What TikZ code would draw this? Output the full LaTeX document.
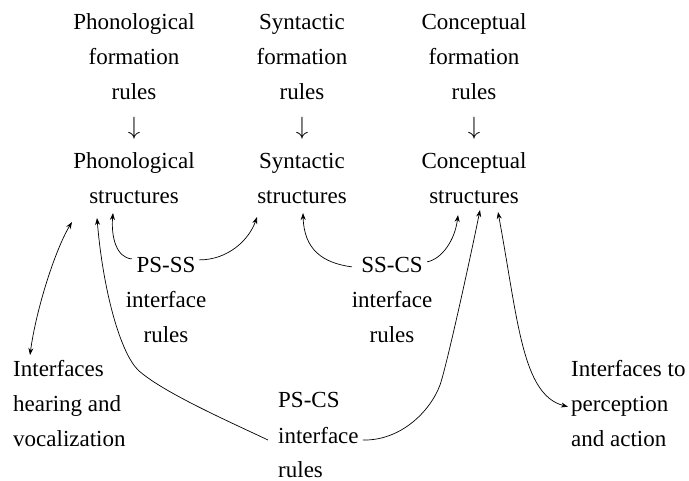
\documentclass[tikz,border=0pt]{standalone}
\usepackage{fontspec}
\setmainfont{Liberation Serif}
\usetikzlibrary{arrows.meta,calc}
\begin{document}
\begin{tikzpicture}[x=1pt,y=-1pt,
  lbl/.style={inner sep=0pt, anchor=base, font=\fontsize{23}{28}\selectfont},
  lbll/.style={lbl, anchor=base west},
  conn/.style={line width=0.7pt, -{Stealth[length=7pt,width=5pt]}},
  bconn/.style={line width=0.7pt, {Stealth[length=7pt,width=5pt]}-{Stealth[length=7pt,width=5pt]}}]
\useasboundingbox (0,0) rectangle (689,481);
% column 1
\node[lbl] (pf1) at (134,30) {Phonological};
\node[lbl] (pf2) at (134,64.7) {formation};
\node[lbl] (pf3) at (134,99.4) {rules};
\node[lbl] (pfa) at (134,134.1) {$\downarrow$};
\node[lbl] (ph1) at (134,168.8) {Phonological};
\node[lbl] (phs) at (134,203.5) {structures};
% column 2
\node[lbl] (sf1) at (302,30) {Syntactic};
\node[lbl] (sf2) at (302,64.7) {formation};
\node[lbl] (sf3) at (302,99.4) {rules};
\node[lbl] (sfa) at (302,134.1) {$\downarrow$};
\node[lbl] (sy1) at (302,168.8) {Syntactic};
\node[lbl] (sys) at (302,203.5) {structures};
% column 3
\node[lbl] (cf1) at (474,30) {Conceptual};
\node[lbl] (cf2) at (474,64.7) {formation};
\node[lbl] (cf3) at (474,99.4) {rules};
\node[lbl] (cfa) at (474,134.1) {$\downarrow$};
\node[lbl] (cs1) at (474,168.8) {Conceptual};
\node[lbl] (css) at (474,203.5) {structures};
% PS-SS
\node[lbl] (psss) at (166,272.9) {PS-SS};
\node[lbl] (psss2) at (166,307.6) {interface};
\node[lbl] (psss3) at (166,342.3) {rules};
% SS-CS
\node[lbl] (sscs) at (392,272.9) {SS-CS};
\node[lbl] (sscs2) at (392,307.6) {interface};
\node[lbl] (sscs3) at (392,342.3) {rules};
% left interfaces
\node[lbll] (hv1) at (13,377) {Interfaces};
\node[lbll] (hv2) at (13,411.7) {hearing and};
\node[lbll] (hv3) at (13,446.4) {vocalization};
% PS-CS
\node[lbll] (pscs) at (278,408) {PS-CS};
\node[lbll] (pscs2) at (278,443) {interface};
\node[lbll] (pscs3) at (278,477) {rules};
% right interfaces
\node[lbll] (pa1) at (571,377) {Interfaces to};
\node[lbll] (pa2) at (571,411.7) {perception};
\node[lbll] (pa3) at (571,446.4) {and action};
% connectors
\draw[conn] ($(psss.base)+(-34,-14)$) .. controls (116,258) and (111,236) .. ($(phs.base)+(-21,9.5)$);
\draw[conn] ($(psss.base)+(33,-13)$) .. controls (228,260) and (249,240) .. ($(sys.base)+(-45,13.5)$);
\draw[conn] ($(sscs.base)+(-40,-6)$) .. controls (323,263) and (304,250) .. ($(sys.base)+(1,9.5)$);
\draw[conn] ($(sscs.base)+(35,-11)$) .. controls (442,259) and (455,240) .. ($(css.base)+(-16,11.5)$);
\draw[conn] ($(pscs2.base west)+(-10,-3)$) .. controls (230,422) and (162,392) .. (138,370)
  .. controls (120,352) and (103,290) .. ($(phs.base)+(-37,14.5)$);
\draw[conn] ($(pscs2.base east)+(4,-3)$) .. controls (400,441) and (430,412) .. (440,385)
  .. controls (447,365) and (472,250) .. ($(css.base)+(6,6.5)$);
\draw[bconn] ($(css.base)+(24,8.5)$) .. controls (518,320) and (522,395) .. ($(pa2.base west)+(-3,-5)$);
\draw[bconn] ($(phs.base)+(-62,18.5)$) .. controls (55,250) and (36,310) .. ($(hv1.base west)+(17,-22)$);
\end{tikzpicture}
\end{document}
